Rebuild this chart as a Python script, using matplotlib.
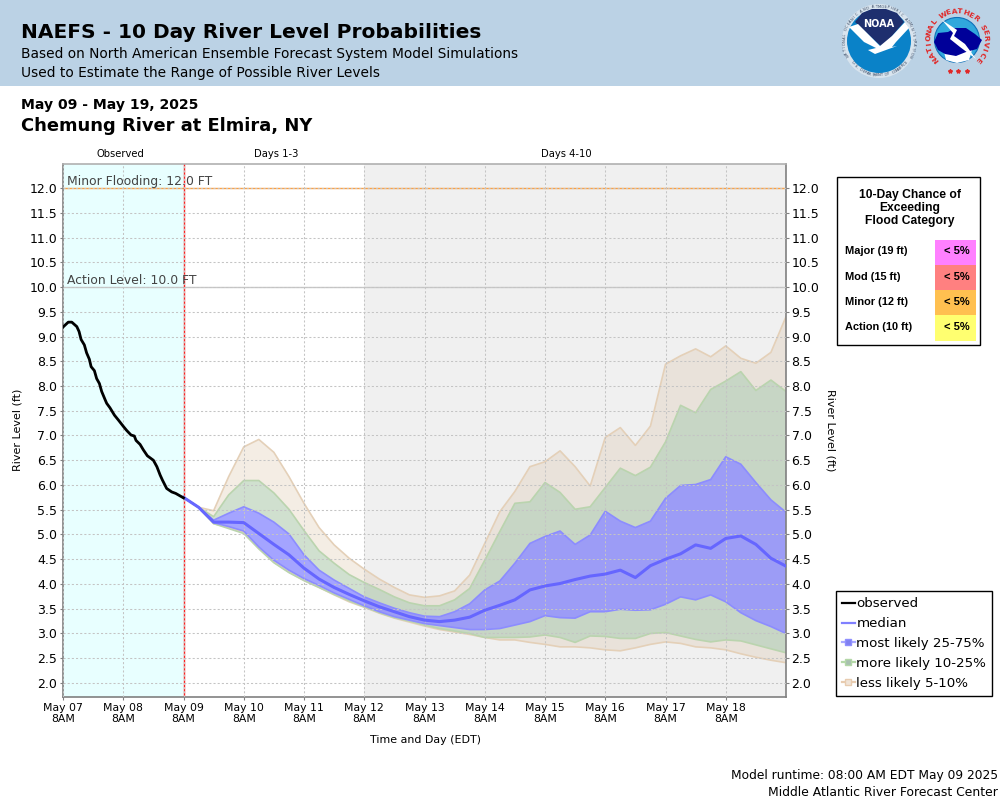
import math
import numpy as np
import matplotlib
matplotlib.use('Agg')
import matplotlib.pyplot as plt
from matplotlib.lines import Line2D
from matplotlib.patches import Circle, Polygon, Rectangle

plt.rcParams['font.family'] = ['DejaVu Sans']

# observed stage, hours after May 07 8AM
obs_hours = [0, 0.4, 2.1, 3.5, 5.5, 6.4, 7.2, 8.5, 9.4, 10.5, 11.2, 12.5, 13.4, 14.5, 15.4, 16.8, 17.4, 18.7,
             20.5, 22.1, 24.1, 25.4, 27.1, 28.4, 29.1, 30.7, 32, 33.6, 36, 37.4, 38.7, 39.6, 41.3, 43.3, 44.9, 48]
obs_level = [9.19, 9.21, 9.29, 9.29, 9.20, 9.10, 8.94, 8.83, 8.67, 8.54, 8.39, 8.31, 8.15, 8.05, 7.89, 7.72, 7.65, 7.56,
             7.41, 7.31, 7.18, 7.10, 7.01, 6.99, 6.90, 6.82, 6.71, 6.59, 6.50, 6.37, 6.20, 6.10, 5.93, 5.86, 5.83, 5.74]

# forecast every 6 hours starting May 09 8AM
less_hi = [5.75, 5.55, 5.48, 6.17, 6.77, 6.92, 6.66, 6.17, 5.63, 5.14, 4.79, 4.52, 4.30, 4.10, 3.93, 3.78, 3.73, 3.76, 3.86, 4.18,
           4.82, 5.46, 5.87, 6.37, 6.47, 6.69, 6.37, 5.98, 6.96, 7.16, 6.80, 7.19, 8.44, 8.61, 8.75, 8.59, 8.81, 8.56, 8.46, 8.68, 9.40]
more_hi = [5.75, 5.55, 5.36, 5.80, 6.09, 6.09, 5.84, 5.51, 5.08, 4.67, 4.42, 4.19, 4.03, 3.89, 3.74, 3.62, 3.56, 3.56, 3.68, 3.91,
           4.48, 5.06, 5.63, 5.66, 6.05, 5.85, 5.51, 5.56, 5.95, 6.34, 6.19, 6.36, 6.87, 7.61, 7.46, 7.93, 8.10, 8.29, 7.91, 8.12, 7.89]
likely_hi = [5.75, 5.55, 5.29, 5.43, 5.56, 5.43, 5.25, 5.01, 4.59, 4.28, 4.08, 3.91, 3.74, 3.62, 3.51, 3.42, 3.35, 3.34, 3.44, 3.60,
             3.88, 4.06, 4.42, 4.82, 4.96, 5.07, 4.80, 4.99, 5.47, 5.27, 5.14, 5.27, 5.73, 5.99, 6.01, 6.11, 6.57, 6.42, 6.05, 5.70, 5.45]
median = [5.75, 5.55, 5.25, 5.25, 5.24, 5.02, 4.80, 4.59, 4.32, 4.10, 3.93, 3.79, 3.66, 3.54, 3.44, 3.34, 3.27, 3.24, 3.27, 3.33,
          3.47, 3.57, 3.68, 3.88, 3.96, 4.01, 4.09, 4.16, 4.20, 4.28, 4.13, 4.37, 4.50, 4.61, 4.79, 4.72, 4.92, 4.97, 4.80, 4.52, 4.36]
likely_lo = [5.75, 5.55, 5.24, 5.16, 5.07, 4.75, 4.48, 4.28, 4.11, 3.97, 3.82, 3.69, 3.56, 3.44, 3.34, 3.27, 3.20, 3.16, 3.12, 3.08,
             3.08, 3.10, 3.17, 3.24, 3.36, 3.32, 3.31, 3.44, 3.44, 3.49, 3.47, 3.48, 3.59, 3.74, 3.68, 3.78, 3.64, 3.42, 3.26, 3.14, 3.00]
more_lo = [5.75, 5.55, 5.22, 5.12, 5.02, 4.71, 4.43, 4.23, 4.07, 3.93, 3.79, 3.66, 3.54, 3.42, 3.32, 3.25, 3.17, 3.10, 3.05, 3.00,
           2.92, 2.92, 2.92, 2.93, 2.97, 2.92, 2.82, 2.95, 2.94, 2.90, 2.90, 3.00, 3.02, 2.95, 2.88, 2.83, 2.87, 2.85, 2.77, 2.69, 2.61]
less_lo = [5.75, 5.55, 5.22, 5.14, 5.04, 4.72, 4.44, 4.24, 4.07, 3.93, 3.78, 3.64, 3.53, 3.41, 3.31, 3.23, 3.15, 3.08, 3.03, 2.98,
           2.92, 2.87, 2.87, 2.82, 2.78, 2.73, 2.73, 2.71, 2.67, 2.65, 2.71, 2.78, 2.83, 2.80, 2.73, 2.71, 2.67, 2.59, 2.52, 2.46, 2.41]

day_labels = ['May 07', 'May 08', 'May 09', 'May 10', 'May 11', 'May 12', 'May 13', 'May 14', 'May 15', 'May 16', 'May 17', 'May 18']
period_labels = ['Observed', 'Days 1-3', 'Days 4-10']
period_days = [0.947, 3.54, 8.36]
table_names = ['Major (19 ft)', 'Mod (15 ft)', 'Minor (12 ft)', 'Action (10 ft)']
table_chance = ['< 5%', '< 5%', '< 5%', '< 5%']
table_colors = ['#FF80FF', '#FF8080', '#FFC050', '#FFFF70']

TAN = '#E4D0B8'
GREEN = '#BAD4AE'
BLUE = '#8C8CFF'

fig = plt.figure(figsize=(10, 8), dpi=100, facecolor='w')

def px_text(x, y, s, **kw):
    kw.setdefault('va', 'center')
    fig.text(x / 1000, 1 - y / 800, s, **kw)

ax = fig.add_axes([63 / 1000, 103 / 800, 723 / 1000, 533 / 800], zorder=2)
ax.set_xlim(0, 12)
ax.set_ylim(1.717, 12.485)
ax.axvspan(0, 2, color='#E8FFFF', lw=0, zorder=0)
ax.axvspan(5, 12, color='#F0F0F0', lw=0, zorder=0)
ax.grid(True, color='#C4C4C4', ls=(0, (2, 2)), lw=0.75, zorder=1)
ax.set_axisbelow(False)

fc_days = 2 + np.arange(len(median)) * 0.25
obs_days = np.array(obs_hours) / 24

def band(y1, y2, color, alpha):
    ax.fill_between(fc_days, y1, y2, facecolor=color, alpha=alpha, lw=0, zorder=0.5)

def edge(y, color):
    ax.plot(fc_days, y, color=color, lw=1.2, zorder=0.6)

band(more_hi, less_hi, '#DCC4A8', 0.3)
band(less_lo, more_lo, '#DCC4A8', 0.3)
band(likely_hi, more_hi, '#7FAA7A', 0.36)
band(more_lo, likely_lo, '#7FAA7A', 0.36)
band(likely_lo, likely_hi, '#2828FF', 0.42)
edge(less_hi, TAN)
edge(less_lo, TAN)
edge(more_hi, GREEN)
edge(more_lo, GREEN)
edge(likely_hi, BLUE)
edge(likely_lo, BLUE)
ax.plot(fc_days, median, color='#6666FF', lw=2.2, zorder=3)
ax.plot(obs_days, obs_level, color='k', lw=2, zorder=3)

ax.axhline(12, color='#FFA040', lw=1, zorder=2)
ax.axhline(10, color='#C8C8C8', lw=1, zorder=2)
ax.axvline(2, color='#FF2020', lw=1, zorder=2.5)
ax.text(0.06, 12.0 + 0.14, 'Minor Flooding: 12.0 FT', fontsize=8.9, color='#444444', va='center', zorder=4)
ax.text(0.06, 10.0 + 0.14, 'Action Level: 10.0 FT', fontsize=8.9, color='#444444', va='center', zorder=4)

ax.set_xticks(np.arange(12))
ax.set_xticklabels([d + '\n8AM' for d in day_labels], fontsize=7.8, linespacing=1.05)
ax.set_yticks(np.arange(2, 12.5, 0.5))
ax.set_yticklabels(['%.1f' % v for v in np.arange(2, 12.5, 0.5)], fontsize=9)
ax.tick_params(axis='both', length=2.5, width=0.8, color='#808080', pad=2, labelcolor='k')
ax.tick_params(axis='y', right=True, labelright=True, pad=1.5)
for s in ax.spines.values():
    s.set_color('#808080')
    s.set_linewidth(1.2)
ax.spines['top'].set_color('#B0B0B0')

for lab, d in zip(period_labels, period_days):
    ax.text(d, 12.485 + 0.2, lab, fontsize=7.2, ha='center', va='center')

px_text(18, 430, 'River Level (ft)', fontsize=8, rotation=90, ha='center')
px_text(831, 430, 'River Level (ft)', fontsize=8, rotation=-90, ha='center')
px_text(425, 740, 'Time and Day (EDT)', fontsize=7.9, ha='center')

legend_handles = [
    Line2D([], [], color='k', lw=1.6),
    Line2D([], [], color='#8080FF', lw=1.6),
    Line2D([], [], color='#A8A8FF', lw=1.6, marker='s', ms=5, mfc='#8080F0', mec='#9090FF'),
    Line2D([], [], color='#B4D8A8', lw=1.6, marker='s', ms=5, mfc='#A8C0B0', mec='#B4D8A8'),
    Line2D([], [], color='#E8CCB0', lw=1.6, marker='s', ms=5, mfc='#F0E4D8', mec='#E8CCB0'),
]
legend_names = ['observed', 'median', 'most likely 25-75%', 'more likely 10-25%', 'less likely 5-10%']
leg = fig.legend(legend_handles, legend_names, loc='lower left', bbox_to_anchor=(835.5 / 1000, 1 - 696 / 800),
                 fontsize=9.6, frameon=True, fancybox=False, edgecolor='k', framealpha=1, borderpad=0.45,
                 labelspacing=0.52, handlelength=1.0, handletextpad=0.12, borderaxespad=0)
leg.get_frame().set_linewidth(1)
leg.set_zorder(5)

# overlay in pixel coordinates for header band, logos and flood table
ov = fig.add_axes([0, 0, 1, 1], zorder=1)
ov.set_xlim(0, 1000)
ov.set_ylim(800, 0)
ov.axis('off')
ov.add_patch(Rectangle((0, 0), 1000, 86, fc='#BBD2E5', ec='none'))

px_text(21, 33, 'NAEFS - 10 Day River Level Probabilities', fontsize=14.5, fontweight='bold')
px_text(21, 54, 'Based on North American Ensemble Forecast System Model Simulations', fontsize=9.9)
px_text(21, 73, 'Used to Estimate the Range of Possible River Levels', fontsize=9.9)
px_text(21, 105, 'May 09 - May 19, 2025', fontsize=10.1, fontweight='bold')
px_text(21, 126, 'Chemung River at Elmira, NY', fontsize=12.9, fontweight='bold')
px_text(998, 776, 'Model runtime: 08:00 AM EDT May 09 2025', fontsize=8.8, ha='right')
px_text(998, 792, 'Middle Atlantic River Forecast Center', fontsize=8.9, ha='right')

# NOAA logo
ncx, ncy = 879, 41
ov.add_patch(Circle((ncx, ncy), 37, fc='#D8E4EE', ec='none'))
ov.add_patch(Circle((ncx, ncy), 32, fc='#0A82C8', ec='none'))
ov.add_patch(Polygon([(855, 22), (862, 13), (872, 9), (886, 9), (897, 13), (904, 22), (892, 36), (882, 47), (870, 36)],
                     closed=True, fc='#1E2F6E', ec='none'))
ov.add_patch(Polygon([(849, 27), (858, 24), (870, 36), (880, 46), (892, 36), (905, 22), (909, 28), (896, 42), (892, 47), (897, 46),
                      (875, 54), (868, 50), (876, 48), (864, 42)], closed=True, fc='white', ec='none'))
ov.text(ncx, 24, 'NOAA', color='white', fontsize=7, fontweight='bold', ha='center', va='center')
label = 'NATIONAL OCEANIC AND ATMOSPHERIC ADMINISTRATION'
for i, ch in enumerate(label):
    a = math.radians(205 - i * 230 / (len(label) - 1))
    ov.text(ncx + 34.5 * math.cos(a), ncy - 34.5 * math.sin(a), ch, fontsize=2.6, color='#33445F',
            rotation=math.degrees(a) - 90, ha='center', va='center')
label = 'U.S. DEPARTMENT OF COMMERCE'
for i, ch in enumerate(label):
    a = math.radians(218 + i * 104 / (len(label) - 1))
    ov.text(ncx + 34.5 * math.cos(a), ncy - 34.5 * math.sin(a), ch, fontsize=2.6, color='#33445F',
            rotation=math.degrees(a) + 90, ha='center', va='center')

# NWS logo
wcx, wcy = 957, 40
ov.add_patch(Circle((wcx, wcy), 22.5, fc='#30A8DC', ec='#1070B8', lw=0.8))
ov.add_patch(Polygon([(944, 52), (955, 50), (972, 50), (969, 60), (957, 63), (946, 60)], closed=True, fc='white', ec='none'))
ov.add_patch(Polygon([(934, 42), (938, 33), (948, 32), (955, 28), (966, 28), (975, 34), (982, 40), (977, 49), (966, 52),
                      (956, 56), (945, 54), (938, 50)], closed=True, fc='#000099', ec='none'))
ov.add_patch(Polygon([(942, 20), (957, 30), (954, 36), (965, 44), (976, 59), (960, 47), (950, 39), (953, 33)],
                     closed=True, fc='white', ec='none'))
label = 'NATIONAL WEATHER SERVICE'
for i, ch in enumerate(label):
    a = math.radians(222 - i * 264 / (len(label) - 1))
    ov.text(wcx + 28.5 * math.cos(a), wcy - 28.5 * math.sin(a), ch, fontsize=5.4, fontweight='bold', color='#E02828',
            rotation=math.degrees(a) - 90, ha='center', va='center')
ov.plot([950, 958, 967], [71, 71, 71], ls='none', marker='*', ms=3, color='#E02828')

# flood category table
ov.add_patch(Rectangle((836.5, 176.5), 143.5, 168.5, fc='white', ec='k', lw=1))
for i, t in enumerate(['10-Day Chance of', 'Exceeding', 'Flood Category']):
    px_text(910, 195 + i * 13, t, fontsize=8.7, fontweight='bold', family='Liberation Sans', ha='center')
for i, name in enumerate(table_names):
    ov.add_patch(Rectangle((935, 240 + i * 25), 41, 25 + (1 if i == 3 else 0), fc=table_colors[i], ec='none'))
    px_text(845, 251.5 + i * 25, name, fontsize=7.9, fontweight='bold', family='Liberation Sans')
    px_text(970, 251.5 + i * 25, table_chance[i], fontsize=8, fontweight='bold', family='Liberation Sans', ha='right')

fig.savefig('out.png', dpi=100)
